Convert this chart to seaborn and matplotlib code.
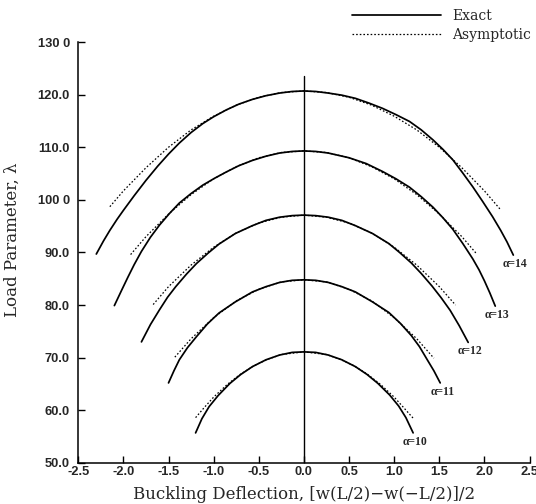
import matplotlib
matplotlib.use("Agg")
import matplotlib.pyplot as plt
import seaborn as sns
import pandas as pd

# ---------------- data ----------------
alphas = [10, 11, 12, 13, 14]

exact_x_10 = [-1.20, -1.13, -1.05, -0.95, -0.82, -0.70, -0.57, -0.42, -0.27, -0.13, 0.00,
              0.13, 0.27, 0.42, 0.57, 0.70, 0.82, 0.95, 1.05, 1.13, 1.21]
exact_l_10 = [55.7, 58.4, 60.7, 62.8, 65.1, 66.8, 68.3, 69.6, 70.5, 71.0, 71.1,
              71.0, 70.5, 69.6, 68.3, 66.8, 65.1, 62.9, 60.8, 58.6, 55.7]

exact_x_11 = [-1.50, -1.44, -1.38, -1.29, -1.19, -1.07, -0.94, -0.76, -0.57, -0.42, -0.27, -0.13, 0.00,
              0.13, 0.27, 0.42, 0.57, 0.76, 0.94, 1.07, 1.19, 1.28, 1.37, 1.44, 1.51]
exact_l_11 = [65.2, 67.5, 69.6, 71.9, 74.0, 76.4, 78.5, 80.6, 82.5, 83.5, 84.3, 84.7, 84.8,
              84.7, 84.3, 83.5, 82.5, 80.6, 78.6, 76.5, 74.2, 72.1, 69.5, 67.5, 65.2]

exact_x_12 = [-1.80, -1.70, -1.60, -1.51, -1.42, -1.30, -1.19, -1.06, -0.94, -0.76, -0.57, -0.42, -0.27, -0.13, 0.00,
              0.13, 0.27, 0.42, 0.57, 0.76, 0.94, 1.06, 1.19, 1.30, 1.42, 1.52, 1.62, 1.72, 1.82]
exact_l_12 = [73.0, 76.3, 79.1, 81.5, 83.5, 85.9, 87.9, 89.9, 91.6, 93.6, 95.1, 96.1, 96.7, 97.0, 97.1,
              97.0, 96.7, 96.1, 95.1, 93.6, 91.7, 90.0, 88.0, 86.0, 83.6, 81.4, 79.0, 76.1, 72.9]

exact_x_13 = [-2.10, -2.02, -1.95, -1.88, -1.80, -1.70, -1.60, -1.49, -1.38, -1.25, -1.12, -0.99, -0.86, -0.72,
              -0.57, -0.42, -0.27, -0.13, 0.00,
              0.13, 0.27, 0.50, 0.69, 0.87, 1.02, 1.17, 1.30, 1.43, 1.54, 1.65, 1.76, 1.87, 1.94, 2.00, 2.06, 2.12]
exact_l_13 = [79.9, 82.8, 85.3, 87.7, 90.2, 92.9, 95.2, 97.4, 99.4, 101.2, 102.8, 104.1, 105.3, 106.5,
              107.5, 108.3, 108.9, 109.2, 109.3,
              109.2, 108.9, 108.0, 106.9, 105.4, 104.0, 102.4, 100.6, 98.6, 96.6, 94.4, 91.7, 88.8, 86.7, 84.6, 82.3, 79.8]

exact_x_14 = [-2.30, -2.22, -2.15, -2.07, -2.00, -1.88, -1.75, -1.62, -1.50, -1.38, -1.25, -1.12, -1.00, -0.86,
              -0.72, -0.57, -0.42, -0.27, -0.13, 0.00,
              0.13, 0.27, 0.42, 0.57, 0.72, 0.87, 1.02, 1.17, 1.30, 1.43, 1.54, 1.65, 1.76, 1.87, 1.98, 2.09,
              2.18, 2.25, 2.32]
exact_l_14 = [89.7, 92.2, 94.2, 96.3, 98.0, 100.8, 103.7, 106.4, 108.7, 110.8, 112.8, 114.5, 115.8, 117.1,
              118.2, 119.1, 119.8, 120.3, 120.6, 120.7,
              120.6, 120.3, 119.9, 119.3, 118.4, 117.4, 116.2, 114.9, 113.3, 111.4, 109.6, 107.6, 105.1, 102.5, 99.7, 96.8,
              94.2, 92.0, 89.5]

asym_x_10 = [-1.20, -1.10, -1.00, -0.85, -0.70, -0.55, -0.40, -0.25, 0.00, 0.25, 0.40, 0.55, 0.70, 0.85, 1.00, 1.10, 1.21]
asym_l_10 = [58.6, 60.6, 62.5, 64.9, 66.9, 68.5, 69.7, 70.6, 71.1, 70.6, 69.7, 68.5, 66.9, 64.9, 62.5, 60.6, 58.5]

asym_x_11 = [-1.43, -1.25, -1.00, -0.75, -0.50, -0.25, 0.00, 0.25, 0.50, 0.75, 1.00, 1.25, 1.44]
asym_l_11 = [70.1, 73.6, 77.6, 80.8, 83.0, 84.4, 84.8, 84.4, 83.0, 80.8, 77.6, 73.6, 69.9]

asym_x_12 = [-1.67, -1.50, -1.25, -1.00, -0.75, -0.50, -0.25, 0.00, 0.25, 0.50, 0.75, 1.00, 1.25, 1.50, 1.68]
asym_l_12 = [80.1, 83.5, 87.6, 91.0, 93.7, 95.6, 96.7, 97.1, 96.7, 95.6, 93.7, 91.0, 87.6, 83.5, 80.0]

asym_x_13 = [-1.92, -1.75, -1.50, -1.25, -1.00, -0.75, -0.50, -0.25, 0.00, 0.25, 0.50, 0.75, 1.00, 1.25, 1.50, 1.75, 1.91]
asym_l_13 = [89.6, 93.0, 97.3, 101.0, 104.0, 106.3, 108.0, 109.0, 109.3, 109.0, 108.0, 106.3, 104.0, 101.0, 97.3, 93.0, 89.8]

asym_x_14 = [-2.15, -2.00, -1.75, -1.50, -1.25, -1.00, -0.75, -0.50, -0.25, 0.00, 0.25, 0.50, 0.75, 1.00, 1.25, 1.50,
             1.75, 2.00, 2.18]
asym_l_14 = [98.7, 101.7, 106.1, 110.0, 113.3, 115.9, 118.0, 119.5, 120.4, 120.7, 120.4, 119.5, 118.0, 115.9, 113.3, 110.0,
             106.1, 101.7, 98.1]

axis_line_top = 123.6

x_ticks = [-2.5, -2.0, -1.5, -1.0, -0.5, 0.0, 0.5, 1.0, 1.5, 2.0, 2.5]
x_tick_labels = ["-2.5", "-2.0", "-1.5", "-1.0", "-0.5", "0.0", "0.5", "1.0", "1.5", "2.0", "2.5"]
y_ticks = [50, 60, 70, 80, 90, 100, 110, 120, 130]
y_tick_labels = ["50.0", "60.0", "70.0", "80.0", "90.0", "100 0", "110.0", "120.0", "130 0"]

x_label = "Buckling Deflection, [w(L/2)\u2212w(\u2212L/2)]/2"
y_label = "Load Parameter, \u03bb"
legend_labels = ["Exact", "Asymptotic"]

exact_x = {10: exact_x_10, 11: exact_x_11, 12: exact_x_12, 13: exact_x_13, 14: exact_x_14}
exact_l = {10: exact_l_10, 11: exact_l_11, 12: exact_l_12, 13: exact_l_13, 14: exact_l_14}
asym_x = {10: asym_x_10, 11: asym_x_11, 12: asym_x_12, 13: asym_x_13, 14: asym_x_14}
asym_l = {10: asym_l_10, 11: asym_l_11, 12: asym_l_12, 13: asym_l_13, 14: asym_l_14}

# ---------------- figure ----------------
sns.set_theme(style="ticks")
plt.rcParams["font.family"] = ["DejaVu Sans"]

fig = plt.figure(figsize=(5.36, 5.04), dpi=100)
ax = fig.add_axes([0.146, 0.0816, 0.842, 0.835])

exact_handle = None
asym_handle = None
for a in alphas:
    df_e = pd.DataFrame({"x": exact_x[a], "lam": exact_l[a]})
    sns.lineplot(data=df_e, x="x", y="lam", sort=False, estimator=None,
                 color="black", linewidth=1.25, ax=ax)
    exact_handle = ax.lines[-1]
    exact_handle.set_solid_joinstyle("round")
    df_a = pd.DataFrame({"x": asym_x[a], "lam": asym_l[a]})
    sns.lineplot(data=df_a, x="x", y="lam", sort=False, estimator=None,
                 color="black", linewidth=0.9, ax=ax)
    asym_handle = ax.lines[-1]
    asym_handle.set_linestyle((0, (1.3, 1.6)))
    ax.annotate("\u03b1=%d" % a, xy=(exact_x[a][-1], exact_l[a][-1]),
                xytext=(1.5, -6.5), textcoords="offset points",
                ha="center", va="center", fontsize=8.4,
                family="Liberation Serif", fontweight="bold")

ax.plot([0, 0], [50, axis_line_top], color="black", linewidth=1.0)

ax.set_xlim(-2.5, 2.5)
ax.set_ylim(50, 130)
ax.set_xticks(x_ticks)
ax.set_xticklabels(x_tick_labels, family="Liberation Sans", fontweight="bold", fontsize=9.3)
ax.set_yticks(y_ticks)
ax.set_yticklabels(y_tick_labels, family="Liberation Sans", fontweight="bold", fontsize=9.3)
ax.tick_params(axis="both", direction="in", length=5, width=1.0, color="black")
ax.tick_params(axis="x", pad=2)
ax.tick_params(axis="y", pad=6)

for s in ["top", "right"]:
    ax.spines[s].set_visible(False)
for s in ["left", "bottom"]:
    ax.spines[s].set_color("black")
    ax.spines[s].set_linewidth(1.1)

ax.set_xlabel(x_label, family="DejaVu Serif", fontsize=12)
ax.set_ylabel(y_label, family="DejaVu Serif", fontsize=12)
ax.xaxis.set_label_coords(0.5, -0.054)
ax.yaxis.set_label_coords(-0.128, 0.53)

fig.legend([exact_handle, asym_handle], legend_labels, loc="upper left",
           bbox_to_anchor=(351.7 / 536, 1 - 9 / 504), frameon=False,
           prop={"family": "DejaVu Serif", "size": 10},
           handlelength=6.4, handletextpad=0.85, borderpad=0, borderaxespad=0,
           labelspacing=0.35)

fig.savefig("out.png", dpi=100)
